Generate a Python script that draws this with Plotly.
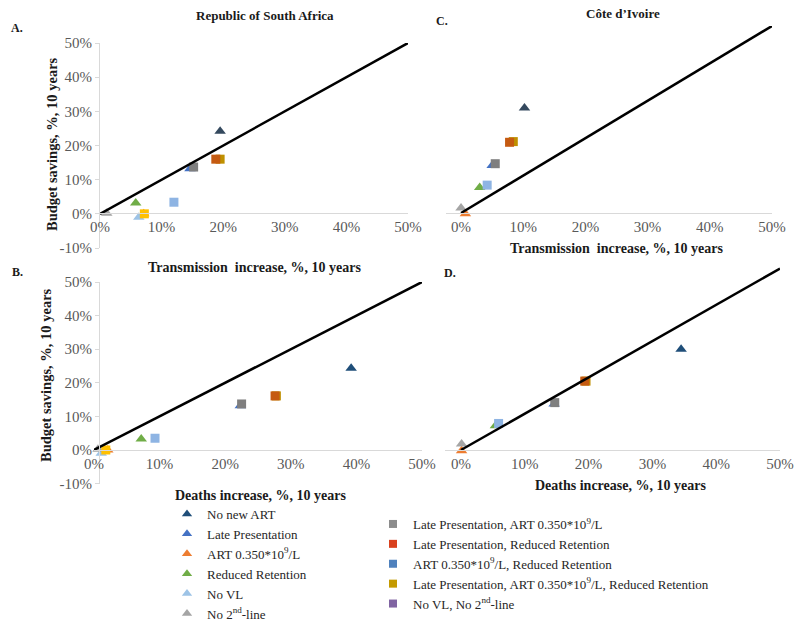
import plotly.graph_objects as go

# ---------------- data ----------------
series = ["No new ART", "Late Presentation", "ART 0.350*10^9/L", "Reduced Retention",
          "No VL", "No 2nd-line",
          "Late Presentation, ART 0.350*10^9/L", "Late Presentation, Reduced Retention",
          "ART 0.350*10^9/L, Reduced Retention",
          "Late Presentation, ART 0.350*10^9/L, Reduced Retention", "No VL, No 2nd-line"]

legend_left = ["No new ART", "Late Presentation", "ART 0.350*10<sup>9</sup>/L",
               "Reduced Retention", "No VL", "No 2<sup>nd</sup>-line"]
legend_right = ["Late Presentation, ART 0.350*10<sup>9</sup>/L",
                "Late Presentation, Reduced Retention",
                "ART 0.350*10<sup>9</sup>/L, Reduced Retention",
                "Late Presentation, ART 0.350*10<sup>9</sup>/L, Reduced Retention",
                "No VL, No 2<sup>nd</sup>-line"]

# Panel A: South Africa, transmission increase vs budget savings
A_x = [0.195, 0.146, 0.071, 0.058, 0.063, 0.011, 0.152, 0.188, 0.120, 0.195, 0.072]
A_y = [0.242, 0.132, 0.000, 0.032, -0.010, 0.002, 0.137, 0.160, 0.034, 0.160, 0.000]
# Panel C: Cote d'Ivoire, transmission increase vs budget savings
C_x = [0.102, 0.050, 0.007, 0.030, None, 0.000, 0.055, 0.078, 0.042, 0.084, None]
C_y = [0.309, 0.140, -0.002, 0.075, None, 0.015, 0.145, 0.208, 0.082, 0.210, None]
# Panel B: South Africa, deaths increase vs budget savings
B_x = [0.392, 0.223, 0.021, 0.072, 0.011, 0.006, 0.225, 0.276, 0.093, 0.278, 0.018]
B_y = [0.243, 0.132, 0.000, 0.033, -0.010, 0.002, 0.137, 0.161, 0.035, 0.161, 0.000]
# Panel D: Cote d'Ivoire, deaths increase vs budget savings
D_x = [0.345, 0.146, 0.001, 0.054, None, 0.001, 0.147, 0.194, 0.059, 0.196, None]
D_y = [0.300, 0.137, -0.002, 0.072, None, 0.018, 0.141, 0.205, 0.079, 0.205, None]

# reference lines
line_x = [0.0, 0.5]
lineA_y = [0.0, 0.5]
lineB_y = [0.0, 0.5]
lineC_y = [0.0, 0.55]
lineD_y = [0.0, 0.54]

ytick_vals = [-0.1, 0.0, 0.1, 0.2, 0.3, 0.4, 0.5]
ytick_text = ["-10%", "0%", "10%", "20%", "30%", "40%", "50%"]
xtick_vals = [0.0, 0.1, 0.2, 0.3, 0.4, 0.5]
xtick_text = ["0%", "10%", "20%", "30%", "40%", "50%"]

# ---------------- styles ----------------
symbols = ["triangle-up"] * 6 + ["square"] * 5
plot_colors = ["#34495e", "#4472c4", "#ed7d31", "#70ad47", "#9dc3e6", "#a5a5a5",
               "#7f7f7f", "#c55a11", "#8eb4e3", "#bf9000", "#ffc000"]
dark_BD = "#1f4e79"
legend_colors_left = ["#1f4e79", "#4472c4", "#ed7d31", "#70ad47", "#9dc3e6", "#a5a5a5"]
legend_colors_right = ["#8c8c8c", "#d9411e", "#4f81bd", "#c49a00", "#8064a2"]
draw_order = [0, 1, 2, 3, 4, 5, 6, 9, 8, 10, 7]

W, H = 800, 625
def px(x): return x / W
def py(y): return 1 - y / H

SERIF = "Liberation Serif, Times New Roman, serif"
fig = go.Figure()

panels = [
    ("x", "y", A_x, A_y, lineA_y, plot_colors[0]),
    ("x2", "y2", C_x, C_y, lineC_y, plot_colors[0]),
    ("x3", "y3", B_x, B_y, lineB_y, dark_BD),
    ("x4", "y4", D_x, D_y, lineD_y, dark_BD),
]
for xa, ya, xs, ys, ly, c0 in panels:
    for i in draw_order:
        if xs[i] is None:
            continue
        col = c0 if i == 0 else plot_colors[i]
        fig.add_trace(go.Scatter(
            x=[xs[i]], y=[ys[i]], mode="markers", name=series[i], showlegend=False,
            marker=dict(symbol=symbols[i], size=10 if i < 6 else 9, color=col,
                        line=dict(width=0)),
            xaxis=xa, yaxis=ya, cliponaxis=False, hoverinfo="skip"))
    fig.add_trace(go.Scatter(x=line_x, y=ly, mode="lines", showlegend=False,
                             line=dict(color="black", width=2.5),
                             xaxis=xa, yaxis=ya, hoverinfo="skip"))

# legend entries
for name, col in zip(legend_left, legend_colors_left):
    fig.add_trace(go.Scatter(x=[None], y=[None], mode="markers", name=name,
                             marker=dict(symbol="triangle-up", size=9, color=col),
                             legend="legend"))
for name, col in zip(legend_right, legend_colors_right):
    fig.add_trace(go.Scatter(x=[None], y=[None], mode="markers", name=name,
                             marker=dict(symbol="square", size=8, color=col),
                             legend="legend2"))

tickfont = dict(family=SERIF, size=15, color="#595959")
AXC = "#d9d9d9"

def xaxis(dom, pos, rng):
    return dict(domain=dom, range=rng, anchor="free", position=pos,
                tickvals=xtick_vals, ticktext=xtick_text, tickfont=tickfont,
                showline=True, linecolor=AXC, linewidth=1, ticks="",
                showgrid=False, zeroline=False, fixedrange=True, automargin=False)

def yaxis(dom, rng, visible=True):
    return dict(domain=dom, range=rng, visible=visible,
                tickvals=ytick_vals, ticktext=ytick_text, tickfont=tickfont,
                showline=True, linecolor=AXC, linewidth=1, ticks="outside",
                ticklen=4, tickcolor=AXC, showgrid=False, zeroline=False,
                fixedrange=True, automargin=False)

fig.update_layout(
    width=W, height=H, margin=dict(l=0, r=0, t=0, b=0, autoexpand=False),
    font=dict(family=SERIF, color="#262626"),
    paper_bgcolor="white", plot_bgcolor="rgba(0,0,0,0)",
    xaxis=xaxis([px(100), px(408)], py(213), [0, 0.5]),
    yaxis=yaxis([py(248), py(43)], [-0.1, 0.5]),
    xaxis2=xaxis([px(445.5), px(772)], py(213), [-0.025, 0.5]),
    yaxis2=yaxis([py(247), py(26)], [-0.1, 0.55], visible=False),
    xaxis3=xaxis([px(94), px(422)], py(450), [0, 0.5]),
    yaxis3=yaxis([py(483.6), py(282)], [-0.1, 0.5]),
    xaxis4=xaxis([px(445), px(780)], py(450), [-0.025, 0.5]),
    yaxis4=yaxis([py(483.6), py(265.2)], [-0.1, 0.55], visible=False),
    legend=dict(x=px(167), y=py(499), xanchor="left", yanchor="top",
                font=dict(family=SERIF, size=13, color="#262626"),
                bgcolor="rgba(0,0,0,0)", tracegroupgap=0),
    legend2=dict(x=px(373), y=py(509), xanchor="left", yanchor="top",
                 font=dict(family=SERIF, size=13, color="#262626"),
                 bgcolor="rgba(0,0,0,0)", tracegroupgap=0),
    showlegend=True,
)

def ann(text, x, y, size, bold=True, angle=0):
    fig.add_annotation(text=f"<b>{text}</b>" if bold else text, x=px(x), y=py(y),
                       xref="paper", yref="paper", xanchor="center", yanchor="middle",
                       showarrow=False, textangle=angle,
                       font=dict(family=SERIF, size=size, color="#1a1a1a"))

ann("Republic of South Africa", 265, 15, 13)
ann("Côte d’Ivoire", 623, 13, 13)
ann("A.", 17, 28, 12)
ann("C.", 442, 21, 12)
ann("B.", 17, 272, 12)
ann("D.", 450, 273, 12)
ann("Transmission\u00a0 increase, %, 10 years", 255, 267, 14)
ann("Transmission\u00a0 increase, %, 10 years", 617, 248, 14)
ann("Deaths increase, %, 10 years", 260, 495, 14)
ann("Deaths increase, %, 10 years", 620, 485, 14)
ann("Budget savings, %, 10 years", 52, 144, 14.5, angle=-90)
ann("Budget savings, %, 10 years", 46, 375, 14.5, angle=-90)

fig.write_html("out.html", config={"displayModeBar": False, "staticPlot": True},
               post_script="document.body.style.margin='0';document.body.style.overflow='hidden';")
